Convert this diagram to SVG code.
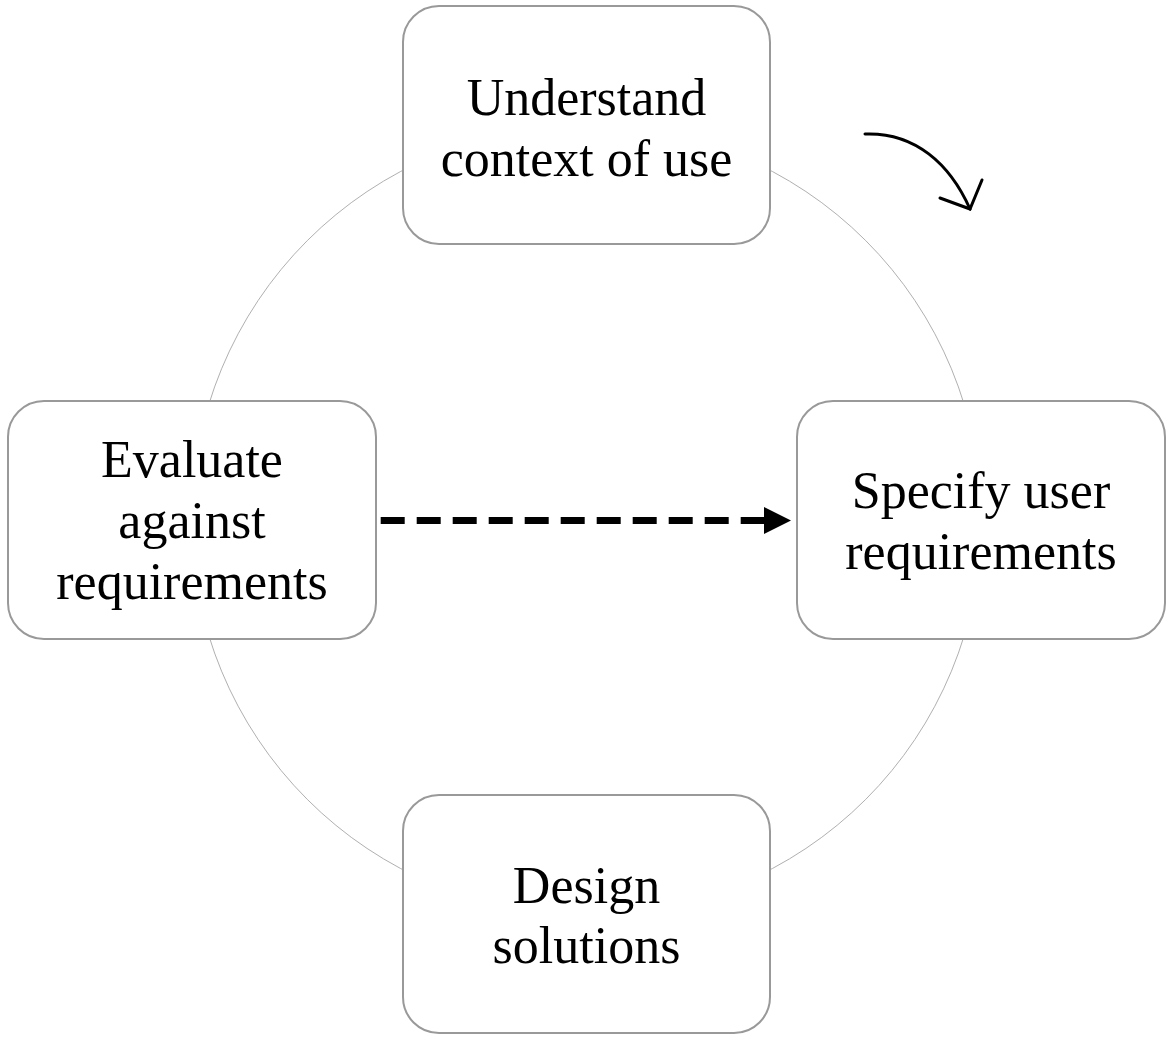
<svg xmlns="http://www.w3.org/2000/svg" width="1174" height="1042" viewBox="0 0 1174 1042">
<style>
.box{fill:#fff;stroke:#999;stroke-width:2}
.lbl{font-family:"Liberation Serif","Times New Roman",serif;font-size:52px;fill:#000;text-anchor:middle}
</style>
<rect width="1174" height="1042" fill="#fff"/>
<g id="connectors">
<circle cx="586.5" cy="520" r="395" fill="none" stroke="#b0b0b0" stroke-width="1"/>
<line x1="380.7" y1="520.5" x2="764" y2="520.5" stroke="#000" stroke-width="7" stroke-dasharray="24 12"/>
<polygon points="764,507 791,520.5 764,534" fill="#000"/>
<path d="M865,134 C915,132 950,164 970,209" fill="none" stroke="#000" stroke-width="3" stroke-linecap="round"/>
<path d="M940,198 L970,209 L982,180" fill="none" stroke="#000" stroke-width="3" stroke-linecap="round" stroke-linejoin="miter"/>
</g>
<g id="node-understand">
<rect class="box" x="403" y="6" width="367" height="238" rx="36" ry="36"/>
<text class="lbl" x="586.5" y="115">Understand</text>
<text class="lbl" x="586.5" y="176">context of use</text>
</g>
<g id="node-evaluate">
<rect class="box" x="8" y="401" width="368" height="238" rx="36" ry="36"/>
<text class="lbl" x="192" y="477">Evaluate</text>
<text class="lbl" x="192" y="538">against</text>
<text class="lbl" x="192" y="599">requirements</text>
</g>
<g id="node-specify">
<rect class="box" x="797" y="401" width="368" height="238" rx="36" ry="36"/>
<text class="lbl" x="981" y="508">Specify user</text>
<text class="lbl" x="981" y="569">requirements</text>
</g>
<g id="node-design">
<rect class="box" x="403" y="795" width="367" height="238" rx="36" ry="36"/>
<text class="lbl" x="586.5" y="903">Design</text>
<text class="lbl" x="586.5" y="963">solutions</text>
</g>
</svg>
